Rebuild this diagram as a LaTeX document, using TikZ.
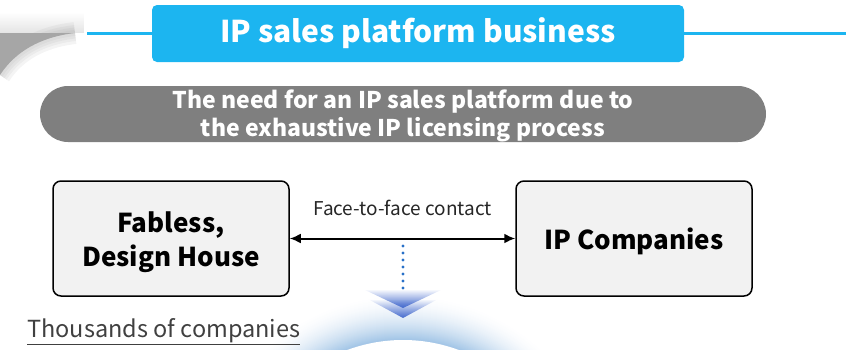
\documentclass[tikz,border=0pt]{standalone}
\usepackage{fontspec}
\setmainfont{Noto Sans CJK KR}
\usetikzlibrary{arrows.meta,fadings,shadings,calc}
\definecolor{titleblue}{RGB}{28,181,240}
\definecolor{pillgray}{RGB}{127,127,127}
\definecolor{boxfill}{RGB}{242,242,242}
\definecolor{glowblue}{RGB}{160,196,230}
\definecolor{chevblue}{RGB}{68,106,206}
\definecolor{dotblue}{RGB}{40,112,200}
\definecolor{txtgray}{RGB}{64,64,64}
\definecolor{shapegray}{RGB}{166,166,166}
\tikzfading[name=fadeup, top color=transparent!100, bottom color=transparent!0]
\tikzset{
  titlebox/.style={fill=titleblue, rounded corners=5pt, minimum width=532, minimum height=57, inner sep=0pt, text=white, font=\fontsize{30}{36}\selectfont\bfseries},
  titleline/.style={draw=titleblue, line width=2.4pt},
  pillbox/.style={fill=pillgray, rounded corners=28pt, minimum width=726, minimum height=56, inner sep=0pt},
  pilltext/.style={text=white, align=center, font=\fontsize{23}{28}\selectfont\bfseries},
  mainbox/.style={draw=black, line width=1.5pt, fill=boxfill, rounded corners=8pt, minimum width=236, minimum height=115, inner sep=0pt},
  boxtext/.style={align=center, font=\fontsize{26}{34}\selectfont\bfseries},
  linklabel/.style={font=\fontsize{19}{22}\selectfont, text=black!85},
  dotmark/.style={fill=dotblue},
  chevron/.style={fill=chevblue, path fading=fadeup},
  biarrow/.style={line width=2pt, {Latex[length=11pt,width=10pt]}-{Latex[length=11pt,width=10pt]}},
}
\begin{document}
\begin{tikzpicture}[x=1pt,y=-1pt]
\useasboundingbox (0,0) rectangle (846,349);
% top-left decorative shape
\fill[shapegray!30, path fading=fadeup] (0,12) rectangle (84,33);
\foreach \w in {22,16,11,6}{
  \draw[shapegray, line width=\w pt, opacity=0.12] (75,33) .. controls (40,37) and (15,52) .. (0,75);
}
\fill[shapegray] (0,33) -- (75,33) .. controls (40,37) and (15,52) .. (0,75) -- cycle;
% bottom glow
\coordinate (gc) at (403,500);
\foreach \i in {0,...,46}{
  \pgfmathsetmacro\gr{206-\i}
  \pgfmathsetmacro\gp{100*(\i/46)^1.8}
  \fill[glowblue!\gp!white] (gc) circle (\gr);
}
\fill[white] (gc) circle (160);
% chevrons
\fill[chevron] (363,289) -- (443,289) -- (403,308) -- cycle;
\fill[chevron] (368,299) -- (438,299) -- (403,318) -- cycle;
% title
\node[titlebox] (title) at (418,33.5) {IP sales platform business};
\coordinate (lline) at (87,33.5);
\coordinate (rline) at (846,33.5);
\draw[titleline] (lline) -- (title.west);
\draw[titleline] (title.east) -- (rline);
% pill
\node[pillbox] (pill) at (403,114) {};
\node[pilltext] (pillt) at (403,115.5) {The need for an IP sales platform due to\\the exhaustive IP licensing process};
% boxes
\node[mainbox] (fab) at (171,238.5) {};
\node[boxtext] (fabt) at (171,242.5) {Fabless,\\Design House};
\node[mainbox] (ipc) at (634,238.5) {};
\node[boxtext] (ipct) at (634,241.5) {IP Companies};
\draw[biarrow] (fab.east) -- node[linklabel, above=18pt] (lbl) {Face-to-face contact} (ipc.west);
% dotted line
\coordinate (dtop) at (403,246);
\coordinate (dbot) at (403,288);
\foreach \t in {0,...,6}{
  \fill[dotmark] ($(dtop)!\t/6!(dbot)$) circle (1.6);
}
% bottom text
\node[anchor=base west, inner sep=0pt, text=txtgray, font=\fontsize{23.5}{28}\selectfont] (thou) at (27,337) {\underline{Thousands of companies}};
\end{tikzpicture}
\end{document}
